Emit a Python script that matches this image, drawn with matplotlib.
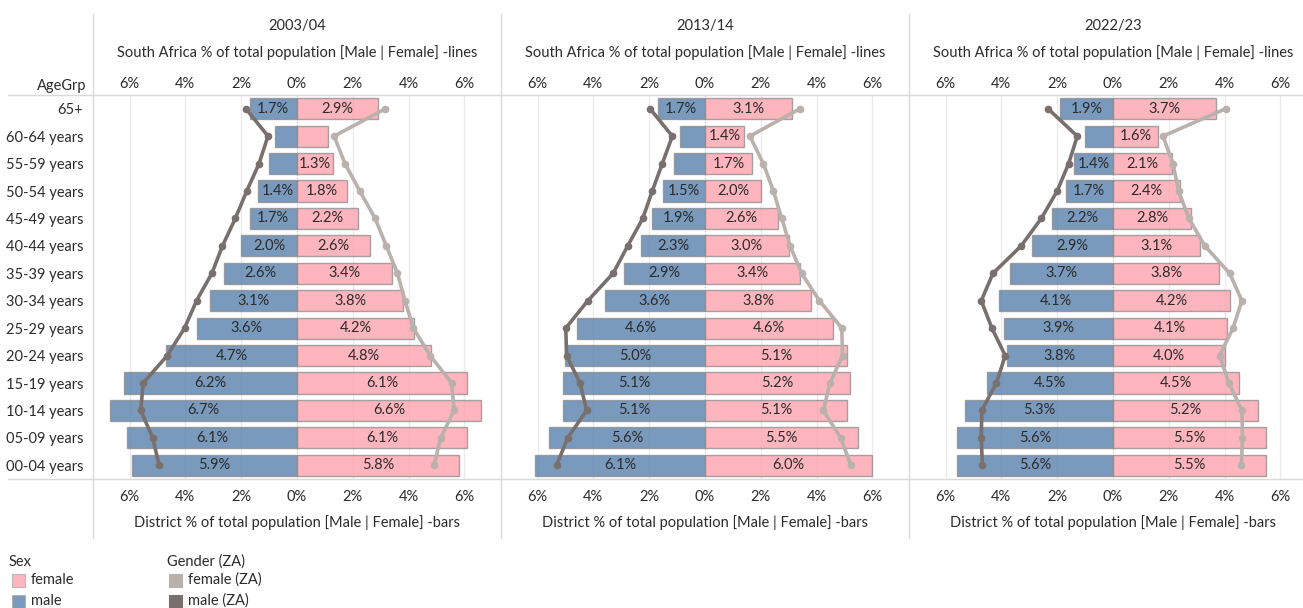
import numpy as np
import matplotlib
matplotlib.use("Agg")
import matplotlib.pyplot as plt
from matplotlib.lines import Line2D
from matplotlib.patches import Rectangle

plt.rcParams['font.family'] = ['Lato', 'DejaVu Sans']

# age groups, top to bottom
age_groups = ['65+', '60-64 years', '55-59 years', '50-54 years', '45-49 years',
              '40-44 years', '35-39 years', '30-34 years', '25-29 years',
              '20-24 years', '15-19 years', '10-14 years', '05-09 years',
              '00-04 years']
years = ['2003/04', '2013/14', '2022/23']

# district bars (% of total population)
dist_male_0304 = [1.7, 0.8, 1.0, 1.4, 1.7, 2.0, 2.6, 3.1, 3.6, 4.7, 6.2, 6.7, 6.1, 5.9]
dist_female_0304 = [2.9, 1.1, 1.3, 1.8, 2.2, 2.6, 3.4, 3.8, 4.2, 4.8, 6.1, 6.6, 6.1, 5.8]
dist_male_1314 = [1.7, 0.9, 1.1, 1.5, 1.9, 2.3, 2.9, 3.6, 4.6, 5.0, 5.1, 5.1, 5.6, 6.1]
dist_female_1314 = [3.1, 1.4, 1.7, 2.0, 2.6, 3.0, 3.4, 3.8, 4.6, 5.1, 5.2, 5.1, 5.5, 6.0]
dist_male_2223 = [1.9, 1.0, 1.4, 1.7, 2.2, 2.9, 3.7, 4.1, 3.9, 3.8, 4.5, 5.3, 5.6, 5.6]
dist_female_2223 = [3.7, 1.6, 2.1, 2.4, 2.8, 3.1, 3.8, 4.2, 4.1, 4.0, 4.5, 5.2, 5.5, 5.5]

# South Africa lines (% of total population)
za_male_0304 = [1.83, 1.04, 1.36, 1.8, 2.21, 2.67, 3.05, 3.6, 4.03, 4.65, 5.51, 5.6, 5.17, 4.94]
za_female_0304 = [3.17, 1.33, 1.72, 2.25, 2.8, 3.2, 3.6, 3.87, 4.17, 4.77, 5.54, 5.63, 5.15, 4.91]
za_male_1314 = [1.97, 1.17, 1.53, 1.89, 2.23, 2.77, 3.29, 4.2, 4.99, 4.96, 4.48, 4.24, 4.92, 5.32]
za_female_1314 = [3.4, 1.61, 2.09, 2.45, 2.75, 3.05, 3.46, 4.1, 4.9, 4.93, 4.48, 4.24, 4.86, 5.23]
za_male_2223 = [2.33, 1.28, 1.59, 2.0, 2.57, 3.29, 4.3, 4.72, 4.34, 3.86, 4.18, 4.7, 4.72, 4.68]
za_female_2223 = [4.04, 1.79, 2.15, 2.35, 2.72, 3.29, 4.18, 4.62, 4.3, 3.82, 4.15, 4.62, 4.64, 4.6]

panels = [
    (dist_male_0304, dist_female_0304, za_male_0304, za_female_0304),
    (dist_male_1314, dist_female_1314, za_male_1314, za_female_1314),
    (dist_male_2223, dist_female_2223, za_male_2223, za_female_2223),
]

c_male = '#4E79A7'
c_female = '#FF9DA7'
c_za_male = '#79706E'
c_za_female = '#BAB0AC'
txt = '#2b2b2b'
fs = 10.5
W, H = 1303, 608

fig = plt.figure(figsize=(W / 100, H / 100), dpi=100)

def fx(px):
    return px / W

def fy(py):
    return 1 - py / H

ticks = [-6, -4, -2, 0, 2, 4, 6]
tlabels = ['6%', '4%', '2%', '0%', '2%', '4%', '6%']
y = np.arange(len(age_groups))
panel_left = [93, 501, 909]
pw = 408

for i, (dm, df, zm, zf) in enumerate(panels):
    ax = fig.add_axes([fx(panel_left[i]), fy(479), fx(pw), 384 / H])
    for g in [-6, -4, -2, 2, 4, 6]:
        ax.axvline(g, color='#ebebeb', lw=1, zorder=0)
    ax.axvline(0, color='#bbbbbb', lw=0.8, ls=':', zorder=0)
    dm = np.array(dm)
    df = np.array(df)
    ax.barh(y, -dm, height=0.77, color=c_male, alpha=0.75, edgecolor='#8a8a8a', lw=1, zorder=2)
    ax.barh(y, df, height=0.77, color=c_female, alpha=0.75, edgecolor='#8a8a8a', lw=1, zorder=2)
    ax.plot(-np.array(zm), y, color=c_za_male, lw=2.6, marker='o', ms=4.5, zorder=3)
    ax.plot(zf, y, color=c_za_female, lw=2.6, marker='o', ms=4.5, zorder=3)
    for yy, v in zip(y, dm):
        if v >= 1.2:
            ax.text(-v / 2, yy, f'{v:.1f}%', ha='center', va='center', fontsize=fs, color=txt, zorder=4)
    for yy, v in zip(y, df):
        if v >= 1.2:
            ax.text(v / 2, yy, f'{v:.1f}%', ha='center', va='center', fontsize=fs, color=txt, zorder=4)
    ax.set_xlim(-7.31, 7.31)
    ax.set_ylim(len(age_groups) - 0.5, -0.5)
    ax.set_xticks(ticks)
    ax.set_xticklabels(tlabels)
    ax.tick_params(axis='x', length=0, labelsize=fs, colors=txt, pad=8)
    top = ax.secondary_xaxis('top')
    top.set_xticks(ticks)
    top.set_xticklabels(tlabels)
    top.tick_params(length=0, labelsize=fs, colors=txt, pad=3)
    top.spines['top'].set_visible(False)
    if i == 0:
        ax.set_yticks(y)
        ax.set_yticklabels(age_groups)
        ax.tick_params(axis='y', length=0, labelsize=fs, colors=txt, pad=7)
    else:
        ax.set_yticks([])
    for s in ax.spines.values():
        s.set_visible(False)
    cx = panel_left[i] + pw / 2
    fig.text(fx(cx), fy(26), years[i], ha='center', va='center', fontsize=fs, color=txt)
    fig.text(fx(cx), fy(53), 'South Africa % of total population [Male | Female] -lines',
             ha='center', va='center', fontsize=fs, color=txt)
    fig.text(fx(cx), fy(523), 'District % of total population [Male | Female] -bars',
             ha='center', va='center', fontsize=fs, color=txt)

# frame lines
for py in [95, 479]:
    fig.add_artist(Line2D([fx(8), 1], [fy(py), fy(py)], color='#d9d9d9', lw=1))
for px in [93, 501, 909]:
    fig.add_artist(Line2D([fx(px), fx(px)], [fy(14), fy(538)], color='#d9d9d9', lw=1))

fig.text(fx(86), fy(86), 'AgeGrp', ha='right', va='center', fontsize=fs, color=txt)

# legends
fig.text(fx(9), fy(562), 'Sex', ha='left', va='center', fontsize=fs, color=txt)
fig.text(fx(167), fy(562), 'Gender (ZA)', ha='left', va='center', fontsize=fs, color=txt)
leg_items = [(12, 580, c_female, 0.75, 'female'), (12, 601, c_male, 0.75, 'male'),
             (169, 580, c_za_female, 1, 'female (ZA)'), (169, 601, c_za_male, 1, 'male (ZA)')]
for px, py, col, a, lab in leg_items:
    fig.add_artist(Rectangle((fx(px), fy(py + 7)), fx(13), 13 / H, facecolor=col, alpha=a,
                             edgecolor='#aaaaaa' if a < 1 else col, lw=0.8))
    fig.text(fx(px + 19), fy(py), lab, ha='left', va='center', fontsize=fs, color=txt)

fig.savefig('out.png', dpi=100)
